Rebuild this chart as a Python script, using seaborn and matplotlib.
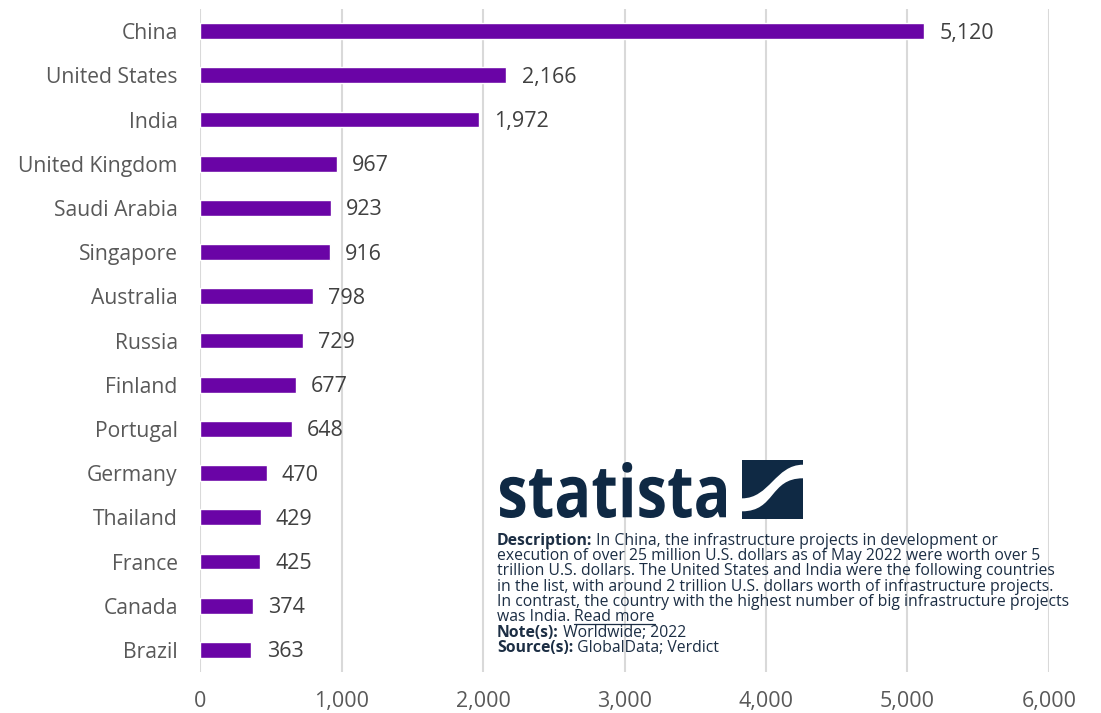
"""
Infrastructure projects value by country (Statista style horizontal bar chart).
"""

import matplotlib
matplotlib.use('Agg')
import matplotlib.pyplot as plt
import seaborn as sns
import pandas as pd
from matplotlib.patches import Rectangle, PathPatch
from matplotlib.path import Path as MPath
from matplotlib.textpath import TextPath
from matplotlib.font_manager import FontProperties
from matplotlib.transforms import Affine2D
from matplotlib.ticker import FuncFormatter

# data
countries = ['China', 'United States', 'India', 'United Kingdom', 'Saudi Arabia',
             'Singapore', 'Australia', 'Russia', 'Finland', 'Portugal',
             'Germany', 'Thailand', 'France', 'Canada', 'Brazil']
values = [5120, 2166, 1972, 967, 923, 916, 798, 729, 677, 648,
          470, 429, 425, 374, 363]
x_ticks = [0, 1000, 2000, 3000, 4000, 5000, 6000]

BAR_COLOR = '#6a04a6'
TICK_COLOR = '#595959'
LABEL_COLOR = '#404040'
NAVY = '#0f2944'
TEXT_NAVY = '#1c2e44'

W, H = 1101, 713

sns.set_theme(style='white')
plt.rcParams['font.family'] = ['Open Sans', 'DejaVu Sans']

df = pd.DataFrame({'country': countries, 'value': values})

fig = plt.figure(figsize=(W / 100, H / 100), dpi=100)
ax = fig.add_axes([200 / W, 1 - 672 / H, 849 / W, 663 / H])

sns.barplot(data=df, y='country', x='value', orient='h', color=BAR_COLOR,
            width=0.36, saturation=1, ax=ax, zorder=3)

ax.set_xlim(0, 6000)
ax.set_ylim(len(countries) - 0.5, -0.5)
ax.set_xticks(x_ticks)
ax.xaxis.set_major_formatter(FuncFormatter(lambda v, p: f'{int(v):,}'))
ax.set_xlabel('')
ax.set_ylabel('')
ax.grid(axis='x', color='#d9d9d9', linewidth=1.5, zorder=0)
ax.grid(axis='y', visible=False)
for s in ax.spines.values():
    s.set_visible(False)
ax.tick_params(axis='y', length=0, pad=16, labelsize=15.2, labelcolor=TICK_COLOR)
ax.tick_params(axis='x', length=0, pad=14, labelsize=15.5, labelcolor=TICK_COLOR)

bar_texts = ax.bar_label(ax.containers[0], labels=[f'{v:,}' for v in values],
                         padding=11, fontsize=15.5, color=LABEL_COLOR)
# reference labels sit a touch below the bar centre
for txt in bar_texts:
    txt.xyann = (txt.xyann[0], -1.5)

# statista logo
fp = FontProperties(family='Open Sans', weight='bold')
tp = TextPath((0, 0), 'statista', prop=fp, size=1)
bb = tp.get_extents()
sx = (726 - 500) / bb.width
sy = (518 - 462) / bb.height
tr = Affine2D().translate(-bb.x0, -bb.y0).scale(sx, sy).translate(500, H - 518)
fig.patches.append(PathPatch(tr.transform_path(tp), facecolor=NAVY,
                             edgecolor='none', transform=None, figure=fig))

lx0, ly0, lw, lh = 742, H - 519, 61, 59
fig.patches.append(Rectangle((lx0, ly0), lw, lh, facecolor=NAVY,
                             edgecolor='none', transform=None, figure=fig))
band = [(0, 0.13), (0.55, 0.13), (0.45, 0.69), (1, 0.69),
        (1, 0.92), (0.55, 0.92), (0.45, 0.35), (0, 0.35), (0, 0.13)]
codes = [MPath.MOVETO, MPath.CURVE4, MPath.CURVE4, MPath.CURVE4,
         MPath.LINETO, MPath.CURVE4, MPath.CURVE4, MPath.CURVE4, MPath.CLOSEPOLY]
band_px = [(lx0 + x * lw, ly0 + y * lh) for x, y in band]
fig.patches.append(PathPatch(MPath(band_px, codes), facecolor='white',
                             edgecolor='none', transform=None, figure=fig))

# description block
desc_lines = [
    ('Description:', ' In China, the infrastructure projects in development or'),
    ('', 'execution of over 25 million U.S. dollars as of May 2022 were worth over 5'),
    ('', 'trillion U.S. dollars. The United States and India were the following countries'),
    ('', 'in the list, with around 2 trillion U.S. dollars worth of infrastructure projects.'),
    ('', 'In contrast, the country with the highest number of big infrastructure projects'),
    ('', 'was India. '),
    ('Note(s):', ' Worldwide; 2022'),
    ('Source(s):', ' GlobalData; Verdict'),
]
line_y = [541, 556, 571, 587, 602, 617, 633, 648]
fs = 11.3
read_more = None
for (bold, rest), y in zip(desc_lines, line_y):
    yf = 1 - y / H
    anchor = fig.text(497 / W, yf, bold, fontsize=fs, fontweight='bold',
                      color=TEXT_NAVY, va='center', ha='left')
    t = ax.annotate(rest, xy=(1, 0.5), xycoords=anchor, fontsize=fs,
                    color=TEXT_NAVY, va='center', ha='left',
                    annotation_clip=False)
    if rest == 'was India. ':
        read_more = ax.annotate('Read more', xy=(1, 0.5), xycoords=t,
                                fontsize=fs, color=TEXT_NAVY, va='center',
                                ha='left', annotation_clip=False)

fig.canvas.draw()
rb = read_more.get_window_extent()
fig.add_artist(plt.Line2D([rb.x0, rb.x1], [rb.y0 + 1, rb.y0 + 1], color=TEXT_NAVY,
                          linewidth=0.9, transform=None))

fig.savefig('out.png', dpi=100)
